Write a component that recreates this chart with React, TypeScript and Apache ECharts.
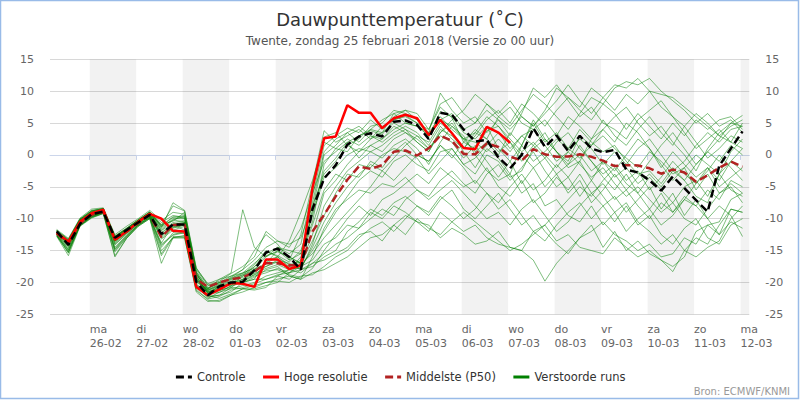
import React, { useEffect, useRef } from "react";
import * as echarts from "echarts";

const FONT = "DejaVu Sans";

// time axis in hours since 25-02 00:00; values every 6 hours from 25-02 07:00
const startHour = 7;
const stepHours = 6;
const xMin = 3.5;
const xMax = 364.5;

const tickHours = [24, 48, 72, 96, 120, 144, 168, 192, 216, 240, 264, 288, 312, 336, 360];
const dayTickLabels = [
  "ma\n26-02", "di\n27-02", "wo\n28-02", "do\n01-03", "vr\n02-03", "za\n03-03", "zo\n04-03",
  "ma\n05-03", "di\n06-03", "wo\n07-03", "do\n08-03", "vr\n09-03", "za\n10-03", "zo\n11-03", "ma\n12-03",
];
// day start hours of the shaded bands
const shadedDayStarts = [24, 72, 120, 168, 216, 264, 312, 360];

const controle = [
  -12.0, -14.1, -10.8, -9.3, -8.9, -13.0, -11.8, -10.6, -9.4, -12.4, -10.9, -10.9,
  -19.9, -22.0, -20.6, -20.0, -19.9, -18.1, -15.3, -14.7, -16.0, -18.0, -8.5, -3.7,
  -1.6, 1.6, 2.9, 3.4, 2.9, 5.2, 5.4, 4.7, 2.5, 6.6, 6.3, 4.0,
  2.1, 2.35, -0.4, -2.1, 0.0, 4.2, 1.25, 3.05, 0.6, 3.0, 1.0, 0.4,
  0.8, -2.3, -2.75, -4.0, -5.6, -3.4, -5.2, -7.1, -8.9, -1.7, 1.0, 3.7,
];

const hogeResolutie = [
  -12.2, -13.6, -10.5, -9.15, -8.6, -13.3, -12.0, -10.5, -9.25, -10.0, -11.9, -12.0,
  -20.7, -22.0, -21.1, -20.1, -20.2, -20.7, -16.4, -16.4, -17.9, -17.3, -5.2, 2.6,
  2.9, 7.8, 6.6, 6.6, 4.2, 5.75, 6.3, 5.75, 3.1, 5.5, 3.4, 1.1,
  0.9, 4.4, 3.5, 1.9,
];

const middelste = [
  -12.3, -13.9, -10.7, -9.4, -8.9, -13.3, -12.0, -10.7, -9.4, -12.9, -11.0, -10.9,
  -19.5, -20.7, -20.0, -19.5, -19.2, -18.3, -17.0, -17.0, -17.3, -17.3, -12.0, -9.4,
  -6.5, -3.9, -1.8, -2.2, -1.6, 0.5, 0.7, -0.1, 1.05, 3.05, 2.2, 0.15,
  0.1, 1.8, 1.25, -0.25, -0.9, 0.9, 0.1, -0.3, -0.25, 0.1, -0.3, -0.9,
  -1.75, -1.6, -1.65, -2.1, -2.95, -2.3, -2.75, -4.2, -3.2, -2.0, -1.05, -1.85,
];

const verstoordeRuns: number[][] = [
  [-12.0,-13.8,-10.4,-9.1,-8.6,-13.2,-11.9,-10.5,-9.1,-11.8,-10.2,-10.5,
   -19.0,-21.8,-20.5,-19.8,-19.0,-17.5,-15.8,-15.2,-16.0,-17.0,-9.0,-2.5,
   -0.5,2.0,3.0,3.8,3.2,5.5,6.2,5.0,2.8,6.8,6.0,3.5,
   2.5,4.5,1.0,-1.0,1.5,5.0,2.0,3.5,1.0,4.0,2.0,0.5,
   1.5,-1.0,-3.0,-2.5,-4.5,-2.0,-4.0,-6.5,-7.5,-3.0,0.5,2.5],
  [-12.3,-13.4,-10.1,-8.8,-8.4,-12.8,-11.6,-10.2,-9.0,-10.6,-9.5,-9.8,
   -18.5,-21.5,-20.8,-20.0,-20.0,-19.5,-16.5,-16.0,-17.2,-16.8,-6.5,1.5,
   3.0,4.2,3.5,5.5,4.0,6.0,7.0,6.5,4.0,7.5,5.8,2.0,
   1.0,3.8,4.5,2.0,-1.0,1.5,3.5,0.5,-2.0,-1.0,2.5,4.0,
   6.0,7.5,5.0,3.0,4.5,2.0,0.0,-2.5,1.0,3.5,5.0,4.5],
  [-11.8,-14.2,-10.6,-9.3,-8.8,-13.6,-12.2,-10.7,-9.5,-12.6,-11.4,-11.0,
   -20.0,-21.0,-19.5,-19.0,-18.5,-17.8,-17.5,-16.5,-17.0,-18.0,-14.0,-8.0,
   -5.0,-2.5,-1.0,0.5,-0.5,1.5,2.5,1.0,-1.5,2.0,4.5,3.0,
   0.0,-2.5,-4.0,-3.0,-6.0,-4.5,-8.0,-7.0,-9.5,-10.5,-8.0,-11.0,
   -9.0,-12.0,-10.0,-8.5,-11.0,-9.5,-7.0,-8.0,-10.0,-12.5,-8.5,-9.0],
  [-12.6,-15.0,-11.0,-9.7,-9.0,-14.8,-12.8,-11.0,-9.8,-14.0,-12.5,-12.0,
   -20.5,-22.5,-21.5,-21.0,-20.5,-20.0,-19.0,-18.5,-18.0,-18.5,-17.0,-15.5,
   -14.0,-13.0,-11.5,-10.0,-8.5,-9.5,-7.0,-5.5,-6.5,-4.0,-2.5,-4.5,
   -6.0,-3.0,-1.5,-4.0,-2.0,0.5,-2.5,-5.0,-3.5,-6.5,-4.0,-1.0,
   -2.5,0.0,2.5,1.0,-1.5,-4.0,-2.0,-5.5,-3.0,-6.0,-4.5,-6.0],
  [-12.1,-13.6,-10.3,-9.0,-8.5,-13.0,-11.7,-10.4,-9.2,-11.0,-8.0,-8.8,
   -18.0,-20.5,-20.0,-19.5,-18.8,-18.0,-16.0,-14.5,-15.5,-14.0,-5.5,2.8,
   3.5,1.5,2.5,4.5,5.0,7.0,6.5,5.5,3.0,5.5,6.5,4.0,
   5.0,8.0,6.0,4.5,7.0,9.5,8.0,6.0,4.0,6.5,9.0,8.0,
   10.5,11.5,11.0,12.0,10.0,8.5,7.0,5.0,6.5,4.5,5.5,3.5],
  [-12.4,-14.4,-10.8,-9.5,-9.0,-14.0,-12.3,-10.8,-9.5,-13.2,-11.8,-11.2,
   -19.8,-21.2,-20.5,-20.5,-19.8,-19.0,-18.5,-17.8,-18.5,-17.5,-15.0,-12.0,
   -9.0,-6.5,-4.0,-2.5,-3.5,-1.0,0.0,-1.5,-2.5,0.5,1.0,-1.5,
   -3.0,0.0,-1.0,-3.5,-2.5,1.0,2.5,0.5,-1.0,3.0,1.5,4.0,
   2.0,5.0,3.5,1.0,-2.0,0.5,-1.5,-3.5,-2.0,-5.0,-3.5,-2.0],
  [-12.7,-15.2,-11.1,-9.8,-9.1,-15.2,-13.0,-11.1,-9.9,-15.5,-12.8,-12.8,
   -21.0,-22.8,-23.0,-22.0,-21.0,-20.5,-20.0,-19.5,-19.0,-19.5,-18.5,-18.0,
   -17.0,-16.0,-14.5,-13.0,-12.5,-11.0,-9.5,-10.5,-12.0,-9.0,-10.5,-12.0,
   -11.0,-13.0,-14.0,-14.5,-15.0,-12.0,-13.5,-11.0,-9.0,-7.5,-10.0,-8.0,
   -6.5,-9.0,-7.0,-5.0,-8.5,-6.0,-9.5,-7.0,-10.0,-8.0,-9.5,-12.8],
  [-11.9,-13.2,-10.0,-8.7,-8.4,-12.7,-11.5,-10.2,-8.9,-11.2,-9.8,-9.5,
   -18.8,-21.0,-20.0,-19.0,-18.0,-16.5,-14.5,-13.5,-14.0,-13.0,-8.0,-3.0,
   -1.0,1.5,0.5,2.5,3.5,5.0,4.0,3.0,2.0,5.0,3.5,0.5,
   -2.0,1.0,-0.5,-3.0,1.5,5.5,2.5,0.5,-1.5,1.5,-1.0,-3.5,
   -5.5,-3.0,-6.0,-8.5,-6.0,-9.0,-7.0,-4.5,-2.0,-4.0,-1.0,-2.5],
  [-12.2,-14.0,-10.5,-9.2,-8.7,-13.4,-12.0,-10.6,-9.3,-12.2,-10.8,-10.6,
   -19.4,-21.6,-21.0,-20.2,-19.5,-18.5,-17.0,-16.8,-17.5,-17.0,-12.5,-6.0,
   -4.0,-1.5,0.5,1.5,0.5,2.5,3.5,2.0,0.5,4.0,3.0,1.0,
   3.0,5.5,7.0,5.0,8.0,6.5,4.5,7.0,9.0,7.5,10.5,9.0,
   7.0,9.5,8.0,10.0,7.5,6.0,3.5,1.0,2.5,4.0,2.0,5.0],
  [-12.5,-14.8,-10.9,-9.6,-9.0,-14.5,-12.6,-10.9,-9.7,-14.5,-12.2,-12.3,
   -20.8,-22.2,-22.0,-21.5,-20.0,-19.5,-19.5,-19.0,-19.5,-18.0,-17.5,-16.0,
   -15.0,-12.0,-10.5,-8.5,-9.5,-7.5,-6.5,-8.0,-9.5,-7.0,-5.5,-8.5,
   -10.0,-8.0,-6.0,-8.5,-11.0,-9.5,-12.0,-14.0,-15.5,-13.0,-11.0,-14.5,
   -12.0,-15.0,-13.5,-15.5,-16.5,-18.3,-15.0,-13.0,-14.0,-11.0,-8.5,-9.0],
  [-12.0,-13.7,-10.3,-9.0,-8.6,-13.1,-11.8,-10.5,-9.2,-11.6,-10.0,-10.0,
   -18.3,-20.8,-20.2,-19.2,-18.0,-15.0,-12.5,-14.0,-16.5,-15.5,-7.5,0.5,
   2.5,3.5,2.0,4.0,5.5,6.5,5.0,4.5,3.5,6.0,4.0,2.5,
   3.5,2.5,0.5,2.0,0.0,-2.0,-0.5,-3.0,-1.5,0.0,-2.5,-1.0,
   -3.5,-2.0,-4.5,-3.0,-5.0,-2.5,-4.0,-1.5,0.5,-1.0,1.5,0.0],
  [-12.3,-14.3,-10.7,-9.4,-8.9,-13.8,-12.2,-10.7,-9.5,-13.0,-11.5,-11.0,
   -19.2,-21.4,-21.2,-20.8,-21.0,-21.0,-20.5,-20.0,-18.5,-17.0,-15.5,-13.0,
   -11.0,-9.0,-7.0,-5.0,-2.5,-4.0,-2.0,0.0,-1.0,1.5,0.0,-2.0,
   -4.5,-2.0,-5.0,-6.5,-4.0,-7.5,-6.0,-3.5,-5.5,-3.0,-6.0,-8.0,
   -10.5,-8.0,-11.0,-9.5,-12.5,-14.0,-11.5,-10.0,-13.0,-14.0,-11.0,-10.0],
  [-11.7,-13.1,-9.9,-8.5,-8.3,-12.5,-11.2,-10.0,-8.7,-10.3,-9.0,-9.3,
   -17.8,-20.2,-19.5,-18.5,-8.6,-14.5,-16.0,-15.0,-16.5,-12.5,-4.5,3.8,
   2.0,3.0,4.0,2.5,4.5,5.5,6.0,5.0,4.0,8.0,9.0,6.5,
   5.0,7.0,5.5,3.0,6.5,10.5,9.0,11.0,8.5,6.0,7.5,5.0,
   4.0,2.5,5.5,7.0,8.5,6.0,4.5,6.5,5.0,3.0,4.5,5.5],
  [-12.6,-15.3,-11.0,-9.7,-9.1,-15.0,-12.9,-11.0,-9.8,-15.0,-13.0,-12.6,
   -20.2,-22.0,-22.5,-21.8,-21.0,-21.2,-20.8,-19.0,-18.0,-17.5,-16.5,-14.0,
   -13.0,-11.0,-11.5,-9.0,-10.0,-8.0,-9.0,-10.5,-11.0,-13.0,-11.5,-12.5,
   -14.0,-13.5,-12.0,-14.5,-15.0,-16.5,-19.8,-17.0,-15.0,-13.0,-12.0,-10.5,
   -12.5,-13.5,-15.0,-14.0,-16.0,-15.5,-13.0,-14.0,-11.0,-10.5,-7.0,-6.0],
  [-12.2,-13.9,-10.6,-9.3,-8.8,-13.5,-12.1,-10.6,-9.4,-12.8,-11.2,-10.8,
   -19.6,-21.3,-20.6,-20.0,-19.2,-18.6,-17.8,-17.2,-18.0,-16.0,-11.0,-5.5,
   -3.0,-4.0,-1.5,-2.0,0.0,1.0,0.5,-0.5,-3.0,-1.0,1.0,-1.5,
   -0.5,1.5,3.5,1.0,3.0,1.5,-0.5,2.0,3.5,1.0,-1.0,-3.0,
   -1.5,-4.0,-2.5,-5.5,-3.5,-1.0,-3.0,-4.5,-2.5,0.0,-2.0,-4.0],
  [-12.1,-13.5,-10.2,-8.9,-8.5,-12.9,-11.6,-10.3,-9.0,-10.9,-10.4,-9.0,
   -18.6,-21.2,-20.4,-19.6,-18.8,-17.2,-15.0,-16.0,-13.5,-9.0,-4.0,2.0,
   1.0,0.5,3.0,4.0,3.5,6.5,7.0,5.5,3.5,9.7,7.0,5.0,
   6.0,3.5,5.5,4.0,6.0,4.5,6.5,8.5,11.0,8.5,6.5,9.0,
   11.0,10.5,12.0,10.0,9.5,9.0,7.5,6.0,4.5,3.0,2.0,1.0],
  [-12.4,-14.6,-10.8,-9.5,-8.9,-14.1,-12.4,-10.8,-9.6,-13.8,-11.0,-11.8,
   -20.3,-21.9,-21.3,-20.6,-20.0,-19.2,-18.0,-17.5,-19.0,-19.5,-16.0,-11.5,
   -8.5,-7.0,-5.5,-6.0,-4.5,-5.0,-3.5,-5.5,-7.0,-5.5,-4.0,-6.0,
   -8.0,-10.0,-9.0,-11.0,-8.5,-7.0,-9.5,-12.0,-10.5,-8.0,-6.0,-4.5,
   -7.0,-5.5,-8.0,-10.0,-7.5,-9.0,-6.5,-8.0,-5.5,-7.0,-4.0,-5.0],
  [-11.9,-13.3,-10.1,-8.8,-8.4,-12.8,-11.5,-10.2,-9.0,-11.3,-10.2,-9.6,
   -18.7,-21.1,-20.3,-19.3,-18.5,-17.0,-15.5,-14.5,-15.0,-15.5,-10.5,-1.5,
   1.0,2.5,1.5,3.0,2.5,4.0,5.0,4.5,3.0,5.5,4.5,2.5,
   2.0,0.5,2.5,0.5,3.0,4.0,1.5,-1.0,0.5,2.5,1.0,-1.5,
   0.5,-1.5,1.0,2.5,0.0,-2.5,-1.0,1.5,3.5,2.0,4.0,4.5],
  [-12.7,-15.4,-11.1,-9.8,-9.2,-15.8,-13.1,-11.2,-10.0,-17.0,-13.0,-13.0,
   -21.5,-23.0,-22.8,-22.0,-21.5,-20.8,-20.0,-19.8,-20.0,-19.0,-18.8,-17.5,
   -16.0,-15.0,-13.0,-11.5,-10.5,-12.0,-10.0,-8.0,-9.0,-6.5,-8.0,-10.0,
   -8.5,-6.0,-7.5,-5.0,-3.0,-5.5,-4.0,-1.5,-3.5,-1.0,-4.0,-6.5,
   -9.0,-7.5,-10.5,-12.0,-14.0,-12.5,-15.0,-16.0,-14.5,-13.5,-10.0,-8.0],
  [-12.0,-13.6,-10.3,-9.0,-8.6,-13.1,-11.7,-10.4,-9.1,-11.4,-7.5,-8.7,
   -17.7,-20.4,-19.8,-18.6,-17.5,-16.0,-12.0,-13.5,-14.5,-11.5,-6.0,-1.0,
   0.5,2.0,-0.5,1.5,2.5,4.5,3.5,2.5,1.0,3.0,2.0,-0.5,
   1.5,-1.0,-3.5,-1.0,-4.5,-2.0,-5.0,-3.0,-6.0,-4.0,-7.5,-5.5,
   -3.0,-5.5,-3.5,-1.0,1.5,3.5,1.0,-1.5,0.5,2.5,5.0,6.2],
  [-12.3,-14.1,-10.6,-9.3,-8.8,-13.5,-12.1,-10.6,-9.4,-12.5,-11.3,-10.7,
   -19.3,-21.7,-21.6,-20.5,-19.0,-18.0,-17.0,-15.0,-16.0,-17.0,-13.5,-9.5,
   -6.0,-3.0,-3.5,-1.0,-2.0,0.5,2.0,0.0,-1.0,1.5,-0.5,2.0,
   4.0,2.5,6.0,7.5,5.0,4.0,5.5,3.0,6.0,4.5,2.5,5.5,
   3.0,1.5,4.0,6.0,3.5,1.5,4.5,2.0,-0.5,1.0,3.0,2.0],
  [-12.5,-14.9,-11.0,-9.6,-9.0,-14.7,-12.7,-11.0,-9.8,-14.2,-12.6,-12.2,
   -20.6,-22.3,-22.0,-20.8,-19.5,-18.8,-18.2,-18.0,-18.8,-19.2,-17.8,-15.0,
   -12.5,-10.0,-8.0,-9.5,-7.0,-6.0,-4.5,-3.0,-4.5,-2.0,-3.5,-5.0,
   -4.0,-6.0,-8.5,-7.0,-9.5,-12.0,-11.0,-13.5,-12.5,-14.5,-15.0,-15.5,
   -13.0,-14.5,-16.0,-15.0,-16.5,-17.5,-16.0,-12.0,-11.0,-12.5,-10.5,-11.5],
  [-12.1,-13.8,-10.4,-9.1,-8.6,-13.2,-11.9,-10.5,-9.2,-11.9,-10.6,-10.3,
   -18.9,-21.7,-21.0,-20.2,-19.5,-18.2,-17.0,-16.0,-17.5,-16.5,-8.5,0.0,
   1.5,3.5,4.5,3.0,2.0,3.5,4.5,3.5,1.5,4.5,2.5,1.0,
   3.5,6.0,4.5,2.5,0.5,2.0,0.0,-2.0,0.5,-1.5,-3.5,-2.0,
   -4.5,-6.5,-5.0,-7.0,-9.0,-7.5,-10.0,-11.0,-8.5,-6.0,-5.0,-7.5],
  [-12.2,-14.0,-10.5,-9.2,-8.7,-13.4,-12.0,-10.6,-9.3,-12.3,-10.9,-10.6,
   -19.5,-21.5,-20.8,-20.3,-19.8,-18.8,-17.5,-16.8,-17.8,-17.8,-14.5,-10.5,
   -7.5,-5.0,-3.0,-1.5,-2.5,-0.5,1.5,3.0,1.0,3.5,5.5,7.0,
   9.5,8.0,6.5,8.5,6.0,4.5,7.0,10.5,9.0,7.0,5.5,8.0,
   6.5,4.0,6.5,4.5,2.5,5.0,3.0,5.5,4.0,5.5,6.0,4.0],
  [-12.8,-15.8,-11.2,-9.9,-9.2,-16.0,-13.1,-11.2,-10.0,-15.8,-13.0,-13.0,
   -21.3,-22.6,-22.2,-21.2,-20.8,-20.2,-19.5,-18.8,-18.5,-18.0,-17.0,-16.5,
   -15.5,-14.5,-12.5,-12.0,-13.5,-11.0,-12.5,-10.0,-11.5,-12.5,-10.5,-9.0,
   -10.5,-12.0,-13.5,-15.0,-14.0,-12.5,-11.0,-9.0,-7.0,-5.0,-6.5,-4.0,
   -2.0,-4.5,-6.0,-3.5,-5.5,-7.5,-5.0,-4.0,-6.5,-3.0,-5.5,-6.5],
  [-11.8,-13.4,-10.1,-8.8,-8.5,-12.9,-11.6,-10.3,-9.0,-11.1,-9.7,-9.9,
   -18.4,-20.9,-20.0,-19.4,-18.6,-17.6,-15.2,-15.8,-16.8,-15.0,-9.5,-3.5,
   -2.0,0.0,1.0,0.5,1.5,3.0,4.0,2.0,0.5,3.5,5.0,2.5,
   0.5,2.0,0.0,3.5,1.5,-1.0,0.5,2.5,1.0,-0.5,1.5,3.0,
   1.0,-0.5,-2.0,0.5,-1.0,-3.0,-2.0,0.0,-1.5,-3.0,-1.0,1.0],
];

const toPairs = (vals: number[]) => vals.map((v, i) => [startHour + i * stepHours, v]);

export default function App() {
  const ref = useRef<HTMLDivElement>(null);

  useEffect(() => {
    document.body.style.margin = "0";
    if (!ref.current) return;
    const chart = echarts.init(ref.current, undefined, { renderer: "svg" });

    const ensembleSeries = verstoordeRuns.map((run) => ({
      type: "line",
      name: "Verstoorde runs",
      data: toPairs(run),
      symbol: "none",
      silent: true,
      z: 3,
      lineStyle: { color: "#008000", width: 1, opacity: 0.5 },
      itemStyle: { color: "#008000" },
    }));

    const shading = {
      type: "line",
      name: "shading",
      data: [],
      symbol: "none",
      silent: true,
      z: 1,
      markArea: {
        silent: true,
        itemStyle: { color: "rgba(0,0,0,0.05)" },
        data: shadedDayStarts.map((s) => [{ xAxis: s }, { xAxis: Math.min(s + 24, xMax) }]),
      },
    };

    const axisY = (pos: "left" | "right", split: boolean) => ({
      type: "value",
      position: pos,
      min: -25,
      max: 15,
      interval: 5,
      axisLine: { show: false },
      axisTick: { show: false },
      axisLabel: { color: "#666", fontSize: 11, margin: 16, fontFamily: FONT },
      splitLine: { show: split, lineStyle: { color: "#d8d8d8", width: 1 } },
    });

    chart.setOption({
      animation: false,
      textStyle: { fontFamily: FONT },
      title: {
        text: "Dauwpunttemperatuur (˚C)",
        subtext: "Twente, zondag 25 februari 2018 (Versie zo 00 uur)",
        left: "center",
        top: 5,
        itemGap: 7,
        textStyle: { fontSize: 18, fontWeight: "normal", color: "#333", fontFamily: FONT },
        subtextStyle: { fontSize: 12, color: "#555", fontFamily: FONT },
      },
      grid: { left: 50, right: 50.7, top: 59.3, bottom: 85.7 },
      xAxis: {
        type: "value",
        min: xMin,
        max: xMax,
        axisLine: { show: true, lineStyle: { color: "#ccd6eb", width: 1 } },
        axisTick: { show: true, length: 5, lineStyle: { color: "#ccd6eb" }, customValues: tickHours },
        axisLabel: {
          customValues: tickHours,
          formatter: (v: number) => dayTickLabels[tickHours.indexOf(v)] ?? "",
          align: "left",
          color: "#666",
          fontSize: 11,
          lineHeight: 14,
          margin: 8,
          fontFamily: FONT,
        },
        splitLine: { show: false },
      },
      yAxis: [axisY("left", true), axisY("right", false)],
      legend: {
        top: 366,
        left: "center",
        itemWidth: 16,
        itemHeight: 14,
        itemGap: 16,
        itemStyle: { opacity: 0 },
        textStyle: { color: "#333", fontSize: 11.5, fontFamily: FONT },
        data: [
          { name: "Controle", lineStyle: { width: 3 } },
          { name: "Hoge resolutie", lineStyle: { width: 3 } },
          { name: "Middelste (P50)", lineStyle: { width: 3 } },
          { name: "Verstoorde runs", lineStyle: { width: 3, opacity: 1, color: "#008000" } },
        ],
      },
      series: [
        shading,
        ...ensembleSeries,
        {
          type: "line",
          name: "Middelste (P50)",
          data: toPairs(middelste),
          symbol: "none",
          z: 4,
          lineStyle: { color: "#b22222", width: 2.5, type: [8, 4] },
          itemStyle: { color: "#b22222" },
        },
        {
          type: "line",
          name: "Hoge resolutie",
          data: toPairs(hogeResolutie),
          symbol: "none",
          z: 5,
          lineStyle: { color: "#ff0000", width: 2.5 },
          itemStyle: { color: "#ff0000" },
        },
        {
          type: "line",
          name: "Controle",
          data: toPairs(controle),
          symbol: "none",
          z: 6,
          lineStyle: { color: "#000000", width: 2.5, type: [8, 4] },
          itemStyle: { color: "#000000" },
        },
      ],
      graphic: [
        {
          type: "rect",
          shape: { x: 0.5, y: 0.5, width: 798, height: 398 },
          style: { fill: "none", stroke: "#99bbe8", lineWidth: 1.5 },
          silent: true,
        },
        {
          type: "text",
          right: 10,
          top: 386,
          style: { text: "Bron: ECMWF/KNMI", fill: "#999", fontSize: 10, fontFamily: FONT },
          silent: true,
        },
      ],
    });

    return () => chart.dispose();
  }, []);

  return <div ref={ref} style={{ width: 800, height: 400 }} />;
}
